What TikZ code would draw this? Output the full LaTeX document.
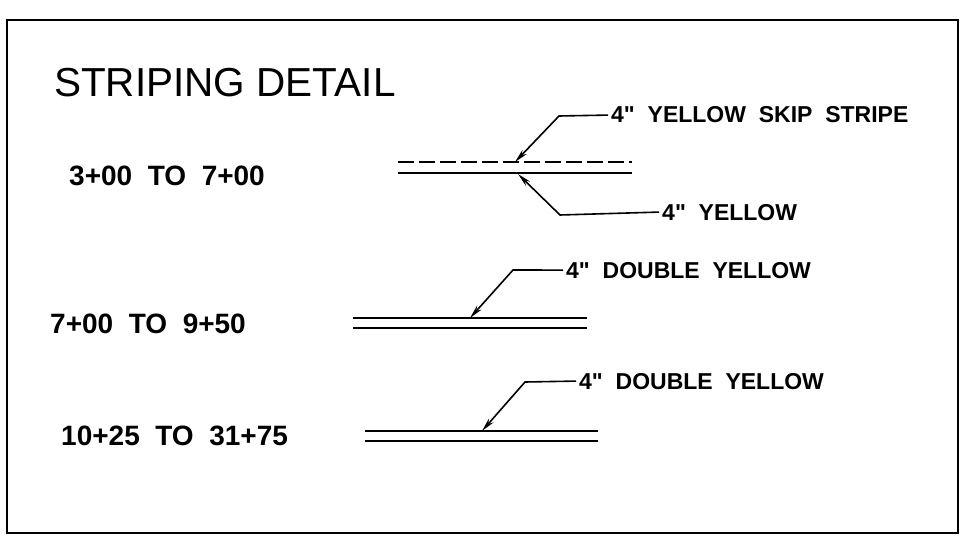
\documentclass[tikz,border=0pt]{standalone}
\usepackage{fontspec}
\setmainfont{Liberation Sans}
\usetikzlibrary{arrows.meta}

\begin{document}
\begin{tikzpicture}[x=1pt, y=-1pt,
    stripe/.style={line width=2pt},
    leader/.style={line width=1.6pt, -{Stealth[length=14pt, width=6pt]}},
    station/.style={anchor=base west, inner sep=0pt, font=\fontsize{28}{30}\selectfont\bfseries},
    callout/.style={anchor=base west, inner sep=0pt, font=\fontsize{23}{25}\selectfont\bfseries}]
\useasboundingbox (0,0) rectangle (965,540);
\draw[line width=1.8pt] (7,20) rectangle (958,533);

\node[anchor=base west, inner sep=0pt, font=\fontsize{40.5}{42}\selectfont] (T) at (54,97) {STRIPING DETAIL};

%\draw[help lines] (0,0) grid[step=50] (965,540);

\node[station] (S1) at (69,185) {3+00\ \ TO\ \ 7+00};
\node[station] (S2) at (50,333) {7+00\ \ TO\ \ 9+50};
\node[station] (S3) at (61,445) {10+25\ \ TO\ \ 31+75};

% stripes
\draw[stripe, dash pattern=on 16pt off 5pt] (398,162) -- (632,162);
\draw[stripe] (398,173) -- (632,173);
\draw[stripe] (353,318) -- (587,318);
\draw[stripe] (353,328) -- (587,328);
\draw[stripe] (365,431) -- (598,431);
\draw[stripe] (365,441) -- (598,441);

\node[callout] (C1) at (611,123) {4\textquotedbl\ \ YELLOW\ \ SKIP\ \ STRIPE};
\node[callout] (C2) at (662,220) {4\textquotedbl\ \ YELLOW};
\node[callout] (C3) at (566,278) {4\textquotedbl\ \ DOUBLE\ \ YELLOW};
\node[callout] (C4) at (579,389) {4\textquotedbl\ \ DOUBLE\ \ YELLOW};

\coordinate (K1) at (559,116);
\coordinate (P1) at (515,162);
\coordinate (K2) at (560,215);
\coordinate (P2) at (518,174);
\coordinate (K3) at (513,270);
\coordinate (P3) at (470,318);
\coordinate (K4) at (525,382);
\coordinate (P4) at (482,431);

\draw[leader] ([xshift=-3pt]C1.west) -- (K1) -- (P1);
\draw[leader] ([xshift=-3pt]C2.west) -- (K2) -- (P2);
\draw[leader] ([xshift=-3pt]C3.west) -- (K3) -- (P3);
\draw[leader] ([xshift=-3pt]C4.west) -- (K4) -- (P4);
\end{tikzpicture}
\end{document}
